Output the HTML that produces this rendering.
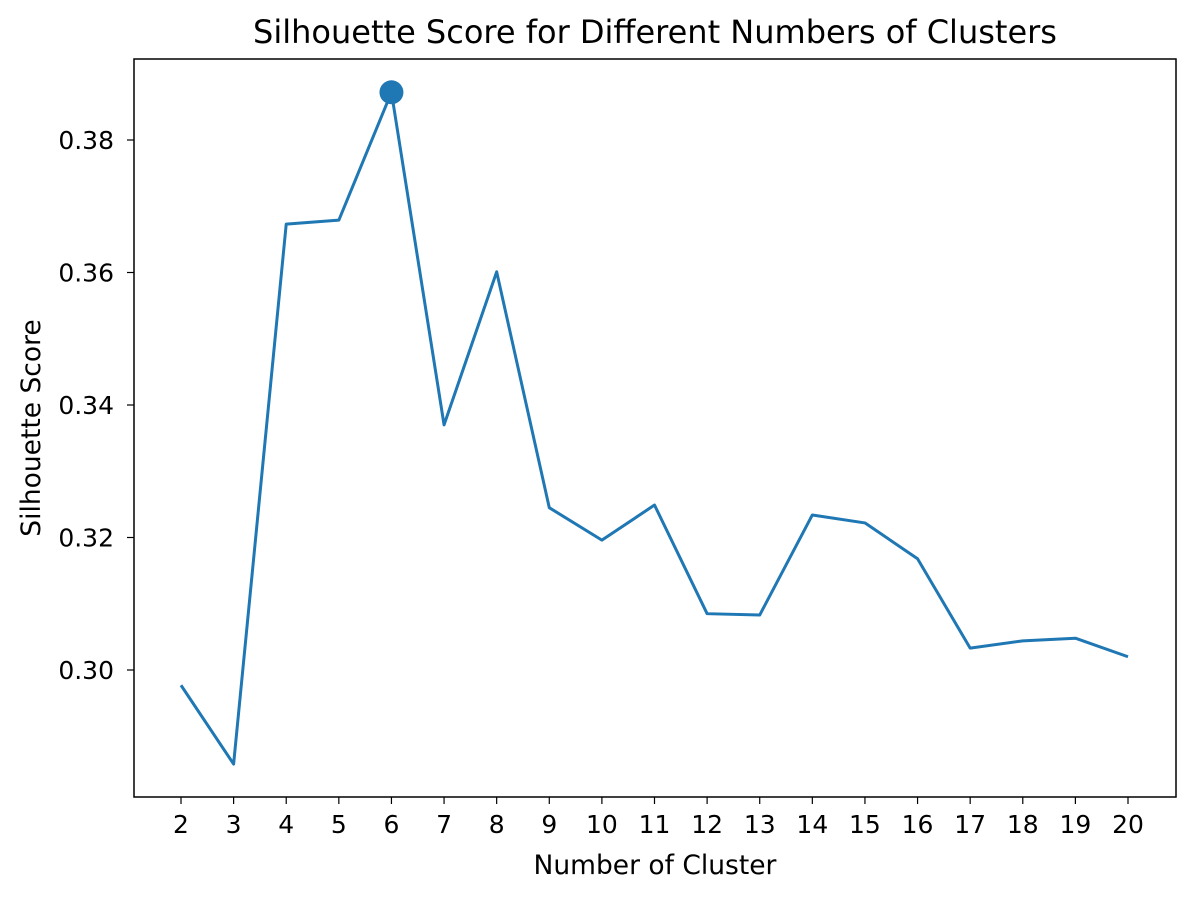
<!DOCTYPE html>
<html><head><meta charset="utf-8"><style>
body{margin:0;background:#fff;}
svg text{font-family:"DejaVu Sans","Liberation Sans",sans-serif;fill:#000;}
</style></head><body>
<svg id="chart" width="1194" height="898">
<text x="655" y="43" font-size="32" text-anchor="middle">Silhouette Score for Different Numbers of Clusters</text>
<text x="655" y="874" font-size="26.5" text-anchor="middle">Number of Cluster</text>
<text transform="translate(40,428) rotate(-90)" font-size="26.5" text-anchor="middle">Silhouette Score</text>
<g id="ticks"></g>
<g id="marks"></g>
<rect x="134" y="59" width="1042" height="738" fill="none" stroke="#000" stroke-width="1.5"/>
</svg>
<script>
const clusters=[2,3,4,5,6,7,8,9,10,11,12,13,14,15,16,17,18,19,20];
const scores=[0.2977,0.2858,0.3673,0.3679,0.3872,0.3370,0.3601,0.3245,0.3196,0.3249,0.3085,0.3083,0.3234,0.3222,0.3168,0.3033,0.3044,0.3048,0.3020];
const yTicks=[0.30,0.32,0.34,0.36,0.38];
const bestK=6;
const NS="http://www.w3.org/2000/svg";
function xs(v){return 181+(v-2)*(1128-181)/18;}
function ys(v){return 670-(v-0.30)/0.02*132.5;}
function mk(t,a,p){const e=document.createElementNS(NS,t);for(const k in a)e.setAttribute(k,a[k]);p.appendChild(e);return e;}
const tg=document.getElementById('ticks'),mg=document.getElementById('marks');
clusters.forEach(c=>{
 const l=mk('line',{x1:xs(c),x2:xs(c),y1:797,y2:804,stroke:'#000','stroke-width':1.2},tg);
 
 
 const t=mk('text',{x:xs(c),y:833,'font-size':25,'text-anchor':'middle'},tg);t.textContent=c;
 
 
});
yTicks.forEach(v=>{
 const l=mk('line',{x1:127,x2:134,y1:ys(v),y2:ys(v),stroke:'#000','stroke-width':1.2},tg);
 
 
 const t=mk('text',{x:114,y:ys(v)+9,'font-size':25,'text-anchor':'end'},tg);t.textContent=v.toFixed(2);
 
 
});
const pts=clusters.map((c,i)=>xs(c)+','+ys(scores[i])).join(' ');
const pl=mk('polyline',{points:pts,fill:'none',stroke:'#1f77b4','stroke-width':3,'stroke-linejoin':'round'},mg);


const bi=clusters.indexOf(bestK);
const dot=mk('circle',{cx:xs(bestK),cy:ys(scores[bi]),r:12,fill:'#1f77b4'},mg);


</script>
</body></html>
